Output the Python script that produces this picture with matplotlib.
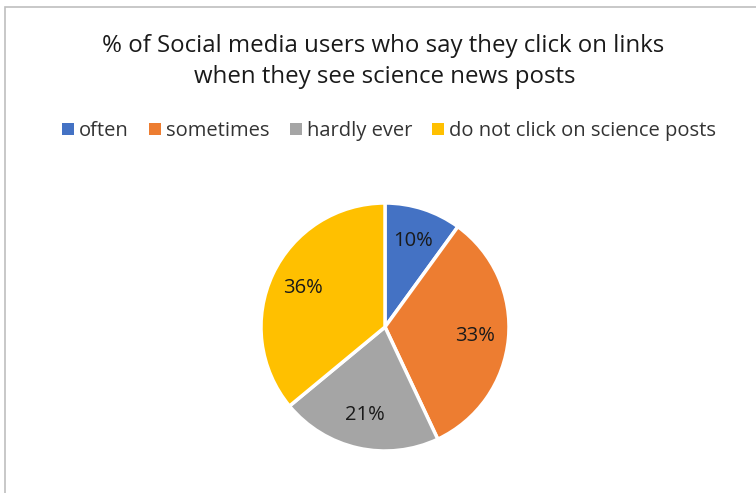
import matplotlib
matplotlib.use("Agg")
import matplotlib.pyplot as plt
from matplotlib.patches import Rectangle, Patch

labels = ["often", "sometimes", "hardly ever", "do not click on science posts"]
values = [10, 33, 21, 36]
colors = ["#4472C4", "#ED7D31", "#A5A5A5", "#FFC000"]

W, H = 756, 493
fig = plt.figure(figsize=(W / 100, H / 100), dpi=100)
fig.patch.set_facecolor("white")

# chart frame (only top/left edges visible in the crop)
fig.add_artist(Rectangle((5 / W, -0.1), 1.2, (H - 7) / H + 0.1, transform=fig.transFigure,
                         fill=False, edgecolor="#BFBFBF", linewidth=1.2))

FONT = ["Open Sans", "DejaVu Sans"]

fig.text(383 / W, 1 - 46 / H, "% of Social media users who say they click on links",
         ha="center", va="center", fontsize=17.3, color="#1a1a1a", family=FONT)
fig.text(385 / W, 1 - 77 / H, "when they see science news posts",
         ha="center", va="center", fontsize=17.3, color="#1a1a1a", family=FONT)

cx, cy, r = 385, H - 327, 124
ax = fig.add_axes([(cx - r) / W, (cy - r) / H, 2 * r / W, 2 * r / H])
wedges, texts, autotexts = ax.pie(values, colors=colors, startangle=90, counterclock=False,
                                  autopct="%d%%", pctdistance=0.73,
                                  wedgeprops=dict(edgecolor="white", linewidth=2.5),
                                  textprops=dict(fontsize=14.5, color="#1a1a1a", family=FONT))
ax.set_xlim(-1.0, 1.0)
ax.set_ylim(-1.0, 1.0)
ax.set_aspect("equal")

handles = [Patch(facecolor=c, edgecolor="none") for c in colors]
fig.legend(handles, labels, loc="center", bbox_to_anchor=(389 / W, 1 - 131 / H), ncol=4,
           frameon=False, handlelength=0.6, handleheight=0.6, handletextpad=0.25,
           columnspacing=1.0, prop=dict(family=FONT, size=14.5), labelcolor="#333333")

fig.savefig("out.png", dpi=100, facecolor="white")
